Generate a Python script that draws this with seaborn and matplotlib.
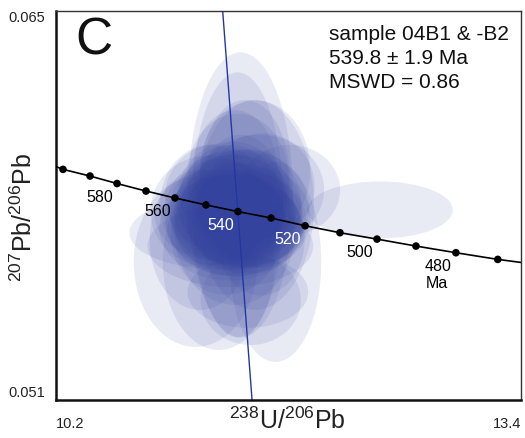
import seaborn as sns
import matplotlib
matplotlib.use('Agg')
import matplotlib.pyplot as plt
from matplotlib.patches import Ellipse
import pandas as pd

# concordia ticks (Ma) and their ratios
ages = [600, 590, 580, 570, 560, 550, 540, 530, 520, 510, 500, 490, 480, 470]
conc_x = [10.248, 10.434, 10.620, 10.819, 11.019, 11.232, 11.452, 11.680,
          11.914, 12.154, 12.409, 12.677, 12.952, 13.240]
conc_y = [0.05930, 0.05906, 0.05879, 0.05852, 0.05827, 0.05802, 0.05778, 0.05755,
          0.05727, 0.05702, 0.05679, 0.05654, 0.05630, 0.05606]
# curve continues to the frame edges
curve_x = [10.20] + conc_x + [13.40]
curve_y = [0.05940] + conc_y + [0.05595]
labelled_ages = [580, 560, 540, 520, 500, 480]

# regression line through the data
reg_x = [11.347, 11.549]
reg_y = [0.065, 0.051]

# 2-sigma error ellipses: centre, full width, full height
ell_x = [11.47, 11.45, 11.57, 11.31, 12.43, 11.16, 11.32, 11.71, 11.52, 11.60,
         11.40, 11.81, 11.26, 11.50, 11.43, 11.54, 11.19,
         11.43, 11.47, 11.40, 11.50, 11.33, 11.54, 11.45, 11.41, 11.48, 11.37,
         11.60, 11.44, 11.33, 11.52, 11.47, 11.61, 11.37, 11.43, 11.57,
         11.42, 11.50, 11.38, 11.46,
         11.25, 11.45, 11.30, 11.62, 11.40]
ell_y = [0.05838, 0.05802, 0.05802, 0.05701, 0.05784, 0.05597, 0.05597, 0.05597,
         0.05489, 0.05856, 0.05654, 0.05856, 0.05802, 0.05892, 0.05712, 0.05460,
         0.05676,
         0.05784, 0.05766, 0.05802, 0.05748, 0.05766, 0.05802, 0.05730, 0.05820,
         0.05774, 0.05740, 0.05756, 0.05838, 0.05784, 0.05720, 0.05820, 0.05676,
         0.05694, 0.05928, 0.05928,
         0.05770, 0.05790, 0.05760, 0.05750,
         0.05780, 0.05900, 0.05830, 0.05870, 0.05720]
ell_w = [0.72, 0.63, 0.81, 1.21, 1.00, 0.85, 0.77, 0.63, 0.83, 0.89,
         1.14, 0.69, 0.69, 0.62, 0.83, 0.69, 0.69,
         0.83, 0.76, 0.72, 0.80, 0.90, 0.70, 0.86, 0.76, 0.66, 0.82,
         0.70, 0.78, 0.70, 0.76, 0.60, 0.60, 0.76, 0.58, 0.76,
         0.95, 0.88, 0.78, 0.92,
         0.80, 0.70, 0.70, 0.72, 0.98]
ell_h = [0.01026, 0.00954, 0.00756, 0.00259, 0.00205, 0.00612, 0.00634, 0.00720,
         0.00259, 0.00396, 0.00295, 0.00324, 0.00432, 0.00576, 0.00540, 0.00324,
         0.00504,
         0.00400, 0.00380, 0.00430, 0.00350, 0.00330, 0.00400, 0.00370, 0.00420,
         0.00350, 0.00380, 0.00360, 0.00330, 0.00370, 0.00330, 0.00470, 0.00400,
         0.00430, 0.00430, 0.00500,
         0.00450, 0.00420, 0.00390, 0.00360,
         0.00400, 0.00460, 0.00380, 0.00380, 0.00380]

sns.set_style('white')
plt.rcParams['font.family'] = ['Liberation Sans', 'DejaVu Sans']
plt.rcParams['mathtext.fontset'] = 'custom'
plt.rcParams['mathtext.rm'] = 'Liberation Sans'

fig = plt.figure(figsize=(5.25, 4.38), dpi=100)
ax = fig.add_axes([0.1067, 0.0868, 0.8857, 0.8881])

ell_color = '#34449e'
for x, y, w, h in zip(ell_x, ell_y, ell_w, ell_h):
    ax.add_patch(Ellipse((x, y), w, h, facecolor=ell_color, edgecolor='none',
                         alpha=0.11, zorder=1))

sns.lineplot(x=reg_x, y=reg_y, sort=False, color='#2236a6', lw=1.0, ax=ax, zorder=2)

conc = pd.DataFrame({'age': ages, 'x': conc_x, 'y': conc_y})
sns.lineplot(x=curve_x, y=curve_y, sort=False, color='black', lw=1.2, ax=ax, zorder=3)
sns.scatterplot(data=conc, x='x', y='y', color='black', s=30, edgecolor='none',
                ax=ax, zorder=4)

for a, x, y in zip(ages, conc_x, conc_y):
    if a in labelled_ages:
        c = 'white' if a in (540, 520) else 'black'
        ax.annotate(str(a), (x, y), xytext=(-12.6, -9.8), textcoords='offset points',
                    ha='center', va='center', fontsize=11.5, color=c, zorder=5)
    if a == 480:
        ax.annotate('Ma', (x, y), xytext=(-14, -22.5), textcoords='offset points',
                    ha='center', va='center', fontsize=11.5, color='black', zorder=5)

ax.set_xlim(10.2, 13.4)
ax.set_ylim(0.051, 0.065)
ax.set_xticks([10.2, 13.4])
ax.set_xticklabels(['10.2', '13.4'])
ax.set_yticks([0.051, 0.065])
ax.set_yticklabels(['0.051', '0.065'])
ax.tick_params(axis='both', length=0, labelsize=10.5, colors='#222222')
ax.tick_params(axis='x', pad=12)
ax.tick_params(axis='y', pad=8)
xl = ax.get_xticklabels()
xl[0].set_ha('left')
xl[1].set_ha('right')
yl = ax.get_yticklabels()
yl[0].set_va('bottom')
yl[1].set_va('top')

ax.set_xlabel(r'$\mathregular{^{238}U/^{206}Pb}$', fontsize=18, color='#222222')
ax.set_ylabel(r'$\mathregular{^{207}Pb/^{206}Pb}$', fontsize=18, color='#222222')
ax.xaxis.set_label_coords(0.497, -0.02)
ax.yaxis.set_label_coords(-0.04, 0.47)

for s in ['left', 'bottom']:
    ax.spines[s].set_linewidth(1.8)
    ax.spines[s].set_color('#111111')
for s in ['top', 'right']:
    ax.spines[s].set_linewidth(1.0)
    ax.spines[s].set_color('#333333')

ax.text(0.041, 0.985, 'C', transform=ax.transAxes, fontsize=37, va='top', ha='left',
        color='#111111')
ax.text(0.588, 0.965, 'sample 04B1 & -B2\n539.8 \u00b1 1.9 Ma\nMSWD = 0.86',
        transform=ax.transAxes, fontsize=15, va='top', ha='left', linespacing=1.35,
        color='#111111')

fig.savefig('out.png', dpi=100)
